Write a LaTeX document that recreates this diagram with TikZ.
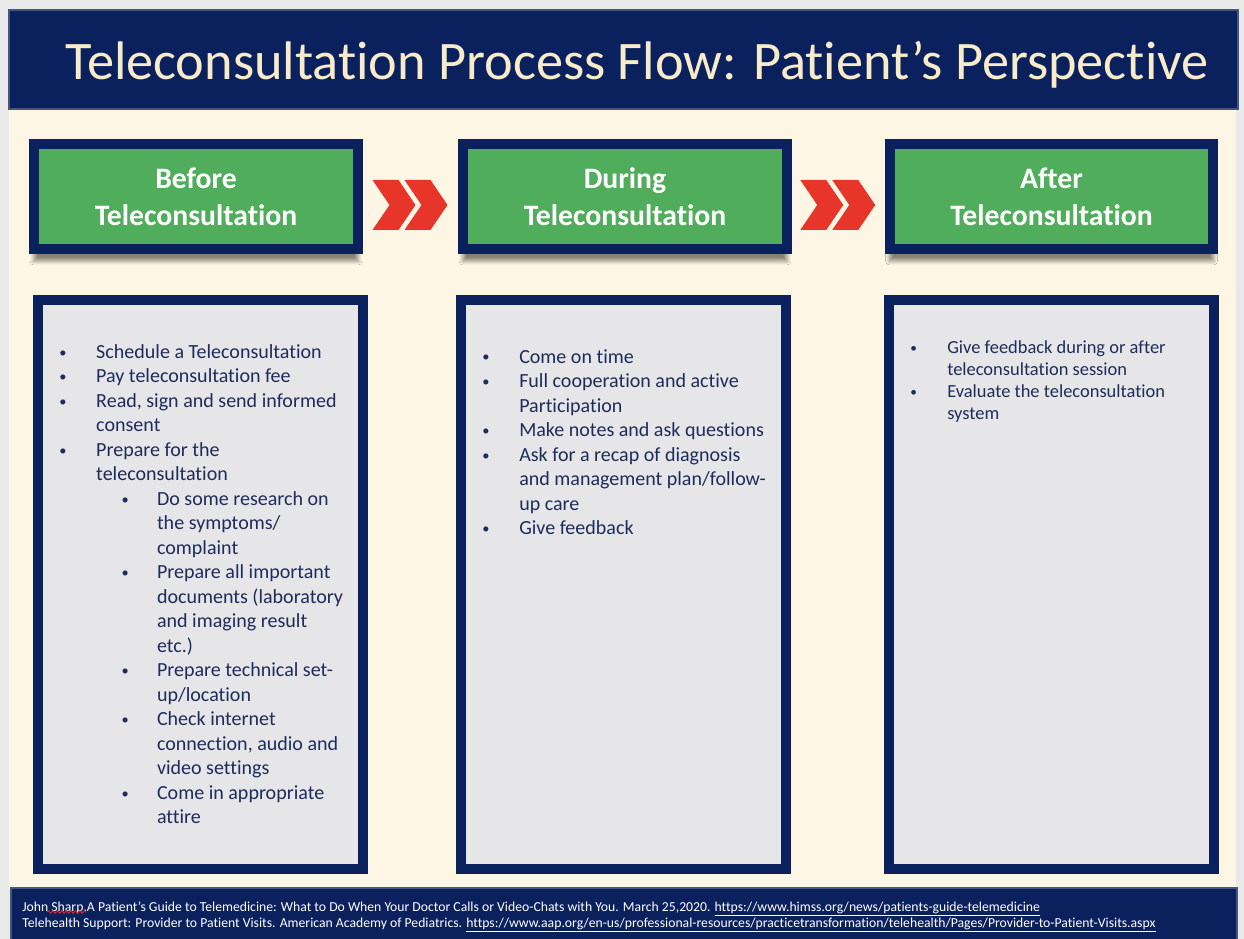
\documentclass[tikz,border=0pt]{standalone}
\usepackage{fontspec}
\setmainfont{Carlito}[Ligatures=NoCommon]
\usetikzlibrary{calc,shadows.blur,decorations.pathmorphing}

\definecolor{navy}{HTML}{0B215E}
\definecolor{navyedge}{HTML}{44567F}
\definecolor{slidebg}{HTML}{FDF6E4}
\definecolor{edgegray}{HTML}{E9E9EA}
\definecolor{stagegreen}{HTML}{50AD5C}
\definecolor{panelgray}{HTML}{E6E6E8}
\definecolor{titlecream}{HTML}{F8EBC9}
\definecolor{chevred}{HTML}{E7352A}
\definecolor{listnavy}{HTML}{1E2C5B}
\definecolor{spellred}{HTML}{D8262A}

% bullet lines: main level and nested level
\newcommand\dotmark{\raisebox{0.12ex}{\scalebox{0.72}{\textbullet}}}
\newcommand\mainbul[1]{\makebox[21pt][l]{\dotmark}#1}
\newcommand\maincont[1]{\hspace*{21pt}#1}
\newcommand\subbul[1]{\hspace*{35.4pt}\makebox[20.2pt][l]{\dotmark}#1}
\newcommand\subcont[1]{\hspace*{55.6pt}#1}

% pair of red chevrons centred on a named coordinate
\def\chevrons(#1){\foreach \dx in {-38,-6}{\fill[chevred] ($(#1)+(\dx,-16.5)$) -- ++(26,0) -- ++(17,25) -- ++(-17,25) -- ++(-26,0) -- ++(17,-25) -- cycle;}}

\tikzset{
	stage/.style={draw=navy, line width=2mm, fill=stagegreen, minimum width=6.48cm, minimum height=2.1cm, inner sep=0pt, align=center, text=white, font=\bfseries\fontsize{16.9}{21}\selectfont, blur shadow={shadow xshift=0pt, shadow yshift=-2.4mm, shadow blur radius=0.8mm, shadow opacity=48, shadow blur steps=8}},
	panel/.style={draw=navy, line width=2mm, fill=panelgray, minimum width=6.5cm, minimum height=11.38cm, inner sep=0pt},
	listtext/.style={anchor=north west, inner sep=0pt, align=left, text=listnavy, font=\fontsize{11.4}{13.95}\selectfont}
}

\begin{document}
\begin{tikzpicture}[x=0.02cm, y=-0.02cm]
			%%%%% START %%%%%
			
			\useasboundingbox (0, 0) rectangle (1244, 939);
			\fill[edgegray] (0, 0) rectangle (1244, 939);
			\fill[slidebg] (9, 100) rectangle (1236, 890);
			
			\draw[fill=navy, draw=navyedge, line width=0.3mm] (9, 10) rectangle (1238, 109);
			\node[anchor=base west, inner sep=0pt, text=titlecream, font=\fontsize{30.9}{36}\selectfont] (title) at (65, 80) {Teleconsultation Process Flow: Patient’s Perspective};
			
			\node[stage] (before) at (196, 196.5) {Before\\Teleconsultation};
			\node[stage] (during) at (625, 196.5) {During\\Teleconsultation};
			\node[stage] (after) at (1051.5, 196.5) {After\\Teleconsultation};
			
			\coordinate (gapone) at ($(before.east)!0.5!(during.west)$);
			\coordinate (gaptwo) at ($(during.east)!0.5!(after.west)$);
			\chevrons(gapone)
			\chevrons(gaptwo)
			
			\node[panel] (beforebox) at (200.5, 584.5) {};
			\node[panel] (duringbox) at (623.5, 584.5) {};
			\node[panel] (afterbox) at (1051.5, 584.5) {};
			
			\node[listtext] (beforelist) at (59, 344) {%
				\mainbul{Schedule a Teleconsultation}\\
				\mainbul{Pay teleconsultation fee}\\
				\mainbul{Read, sign and send informed}\\
				\maincont{consent}\\
				\mainbul{Prepare for the}\\
				\maincont{teleconsultation}\\
				\subbul{Do some research on}\\
				\subcont{the symptoms/}\\
				\subcont{complaint}\\
				\subbul{Prepare all important}\\
				\subcont{documents (laboratory}\\
				\subcont{and imaging result}\\
				\subcont{etc.)}\\
				\subbul{Prepare technical set-}\\
				\subcont{up/location}\\
				\subbul{Check internet}\\
				\subcont{connection, audio and}\\
				\subcont{video settings}\\
				\subbul{Come in appropriate}\\
				\subcont{attire}};
			
			\node[listtext] (duringlist) at (482, 349) {%
				\mainbul{Come on time}\\
				\mainbul{Full cooperation and active}\\
				\maincont{Participation}\\
				\mainbul{Make notes and ask questions}\\
				\mainbul{Ask for a recap of diagnosis}\\
				\maincont{and management plan/follow-}\\
				\maincont{up care}\\
				\mainbul{Give feedback}};
			
			\node[listtext, font=\fontsize{10.5}{12.65}\selectfont] (afterlist) at (910, 340) {%
				\mainbul{Give feedback during or after}\\
				\maincont{teleconsultation session}\\
				\mainbul{Evaluate the teleconsultation}\\
				\maincont{system}};
			
			\draw[fill=navy, draw=navyedge, line width=0.3mm] (11, 888) rectangle (1237, 945);
			\node[anchor=north west, inner sep=0pt, align=left, text=white, font=\fontsize{7.8}{9.1}\selectfont] (refs) at (22, 901) {%
				John Sharp.A Patient’s Guide to Telemedicine: What to Do When Your Doctor Calls or Video-Chats with You. March 25,2020. \underline{https://www.himss.org/news/patients-guide-telemedicine}\\
				Telehealth Support: Provider to Patient Visits. American Academy of Pediatrics. \underline{https://www.aap.org/en-us/professional-resources/practicetransformation/telehealth/Pages/Provider-to-Patient-Visits.aspx}};
			
			% spell-check squiggle under the author name
			\draw[spellred, line width=0.2mm, decorate, decoration={snake, amplitude=0.25mm, segment length=0.9mm}] (47, 912) -- (86, 912);
			
			%%%%% END %%%%%
\end{tikzpicture}
\end{document}
